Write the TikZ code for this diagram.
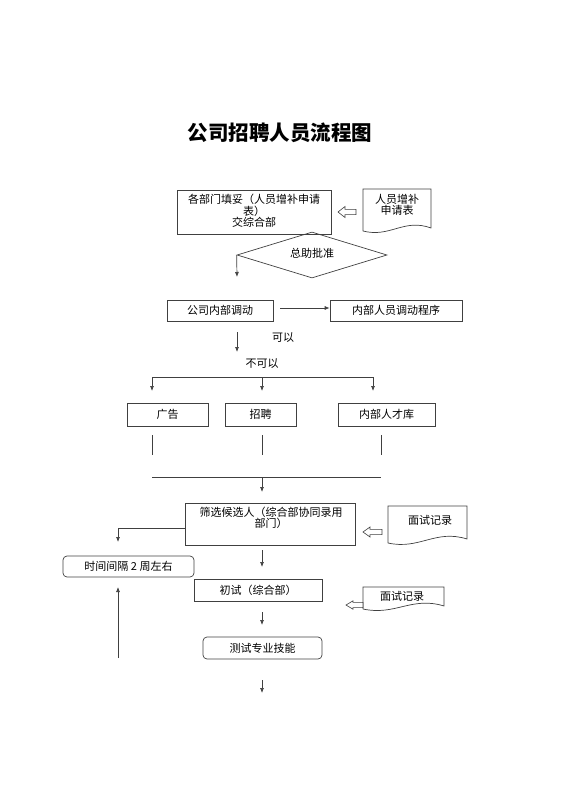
\documentclass[tikz,border=0pt]{standalone}
\usepackage{fontspec}
\setmainfont{Noto Sans CJK SC}
\usetikzlibrary{shapes.geometric,arrows.meta,calc}
\tikzset{
  ln/.style={draw=black!75, line width=0.7pt},
  arr/.style={ln, -{Latex[length=5pt,width=4pt]}},
  boxr/.style={ln, rectangle, inner sep=0pt, font=\fontsize{11}{11}\selectfont},
  rbox/.style={boxr, rounded corners=4pt},
  txt/.style={inner sep=0pt, align=center, font=\fontsize{11}{11.5}\selectfont},
  holl/.style={ln, line width=0.6pt, fill=white},
}
\newcommand\mydoc[5]{% x1, x2, top, bottom-left, bottom-right
  \draw[ln] (#1,#4) -- (#1,#3) -- (#2,#3) -- (#2,#5)
    .. controls ({#1+0.6*(#2-#1)},{#5-10}) and ({#1+0.4*(#2-#1)},{#4+7}) .. (#1,#4);}
\newcommand\myhollow[4]{% x1 (tip), x2, yc, half-height of head
  \draw[holl] (#1,#3) -- ({#1+7},{#3-#4}) -- ({#1+7},{#3-2.6}) -- (#2,{#3-2.6})
    -- (#2,{#3+2.6}) -- ({#1+7},{#3+2.6}) -- ({#1+7},{#3+#4}) -- cycle;}
\begin{document}
\begin{tikzpicture}[x=1pt,y=-1pt]
\useasboundingbox (0,0) rectangle (560,792);
% title
\node[inner sep=0pt, font=\fontsize{20.5}{22}\selectfont\bfseries] (title) at (280,133) {公司招聘人员流程图};

% box 1
\node[boxr, minimum width=154pt, minimum height=44pt] (b1) at (254,212) {};
\node[txt, anchor=north] (b1t) at (254,194) {各部门填妥（人员增补申请\\表）\\交综合部};
% document 1
\mydoc{363}{431}{189}{231}{228}
\node[txt] (d1) at (397,205) {人员增补\\申请表};
\myhollow{338}{356}{212}{5.5}
\coordinate (h1) at (347,212);

% diamond
\node[ln, diamond, aspect=3.26, inner sep=0pt, minimum width=150pt, minimum height=46pt] (dm) at (312,255) {};
\node[txt] (dmt) at (312,253) {总助批准};
\coordinate (c1) at (237,277);
\draw[arr] (dm.west) -- (c1);

% internal transfer
\node[boxr, minimum width=106pt, minimum height=21pt] (b2) at (220,310.5) {公司内部调动};
\node[boxr, minimum width=132pt, minimum height=21pt] (b3) at (396,310.5) {内部人员调动程序};
\coordinate (a2s) at (280,308);
\draw[arr] (a2s) -- (a2s -| b3.west);

\coordinate (c2a) at (237,332);
\coordinate (c2b) at (237,352);
\draw[arr] (c2a) -- (c2b);
\node[txt] (ky) at (283,338) {可以};
\node[txt] (bky) at (262,364) {不可以};

% branches
\coordinate (brl) at (152,377);
\coordinate (brm) at (262,377);
\coordinate (brr) at (373,377);
\draw[ln] (brl) -- (brr);
\coordinate (dl) at (152,391);
\coordinate (dmid) at (262,391);
\coordinate (dr) at (373,391);
\draw[arr] (brl) -- (dl);
\draw[arr] (brm) -- (dmid);
\draw[arr] (brr) -- (dr);

\node[boxr, minimum width=81pt, minimum height=23pt] (b4) at (167.5,414.5) {广告};
\node[boxr, minimum width=71pt, minimum height=23pt] (b5) at (260.5,414.5) {招聘};
\node[boxr, minimum width=97pt, minimum height=23pt] (b6) at (386.5,414.5) {内部人才库};

\coordinate (v1a) at (152,435); \coordinate (v1b) at (152,455);
\coordinate (v2a) at (262,435); \coordinate (v2b) at (262,455);
\coordinate (v3a) at (381,435); \coordinate (v3b) at (381,455);
\draw[ln] (v1a) -- (v1b);
\draw[ln] (v2a) -- (v2b);
\draw[ln] (v3a) -- (v3b);
\coordinate (jl) at (152,477); \coordinate (jr) at (381,477);
\coordinate (jm) at (262,477); \coordinate (jd) at (262,492);
\draw[ln] (jl) -- (jr);
\draw[arr] (jm) -- (jd);

% screening
\node[boxr, minimum width=170pt, minimum height=42pt] (b7) at (270,524) {};
\node[txt, anchor=north] (b7t) at (271,506.5) {筛选候选人（综合部协同录用\\部门）};
\mydoc{388}{467}{506}{543}{539}
\node[txt] (d2) at (430,520) {面试记录};
\myhollow{363}{382}{532}{5}

\coordinate (lw) at (118,528);
\coordinate (ld) at (118,542);
\draw[arr] (b7.west |- lw) -- (lw) -- (ld);

\node[rbox, minimum width=131pt, minimum height=21pt] (b8) at (128.5,566.5) {时间间隔 2 周左右};

\coordinate (e1a) at (262,550); \coordinate (e1b) at (262,567);
\draw[arr] (e1a) -- (e1b);
\node[boxr, minimum width=128pt, minimum height=22pt] (b9) at (258,590) {初试（综合部）};
\mydoc{363}{444}{587}{609}{606}
\node[txt] (d3) at (402,596) {面试记录};
\myhollow{346}{363}{605}{4.2}

\coordinate (up1) at (118,658);
\coordinate (up2) at (118,587);
\draw[arr] (up1) -- (up2);

\coordinate (e2a) at (262,612); \coordinate (e2b) at (262,625);
\draw[arr] (e2a) -- (e2b);
\node[rbox, minimum width=119pt, minimum height=22pt] (b10) at (262.5,648) {测试专业技能};
\coordinate (e3a) at (262,680); \coordinate (e3b) at (262,693);
\draw[arr] (e3a) -- (e3b);
\end{tikzpicture}
\end{document}
